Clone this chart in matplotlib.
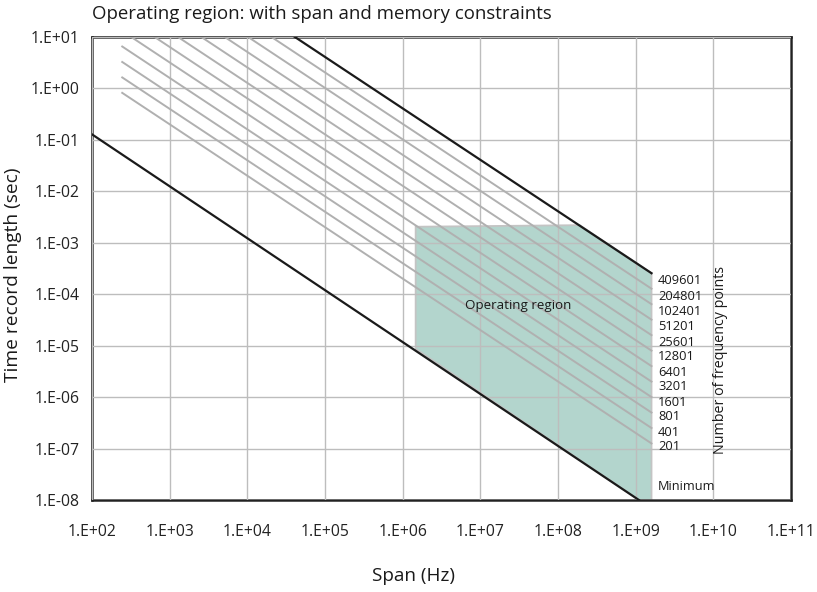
import matplotlib
matplotlib.use('Agg')

import numpy as np
import matplotlib.pyplot as plt
from matplotlib.ticker import FixedLocator, FuncFormatter, NullLocator

plt.rcParams['font.family'] = ['Open Sans', 'DejaVu Sans']
plt.rcParams['font.stretch'] = 'semi-condensed'

# number of frequency points (lines of constant resolution)
n_points = [201, 401, 801, 1601, 3201, 6401, 12801, 25601, 51201, 102401, 204801, 409601]
n_labels = ['201', '401', '801', '1601', '3201', '6401', '12801', '25601', '51201',
            '102401', '204801', '409601']
span_start = 245.0      # Hz, where the gray lines begin
span_end = 1.6e9        # Hz, right edge of the operating region

# minimum time record line
min_span = [1e2, 1.1e9]
min_time = [0.128, 1e-8]

# operating region outline (span Hz, time sec)
region_span = [1.47e6, 1.47e6, 1.9e8, 1.6e9, 1.6e9, 1.1e9]
region_time = [8.7e-6, 2.05e-3, 2.2e-3, 2.56e-4, 1e-8, 1e-8]

x_ticks = [1e2, 1e3, 1e4, 1e5, 1e6, 1e7, 1e8, 1e9, 1e10, 1e11]
y_ticks = [1e-8, 1e-7, 1e-6, 1e-5, 1e-4, 1e-3, 1e-2, 1e-1, 1e0, 1e1]

fig = plt.figure(figsize=(8.17, 5.92), dpi=100)
ax = fig.add_axes([92/817, 1-500/592, (791-92)/817, (500-37)/592])
ax.set_xscale('log')
ax.set_yscale('log')
ax.set_xlim(1e2, 1e11)
ax.set_ylim(1e-8, 1e1)

ax.fill(region_span, region_time, facecolor='#b3d5cd', edgecolor='#c4c4c4', lw=1.3, zorder=1)

for n in n_points:
    s = np.array([span_start, span_end])
    t = n/s
    if n == n_points[-1]:
        ax.plot(s, t, color='#1a1a1a', lw=1.6, zorder=4)
    else:
        ax.plot(s, t, color='#b0b0b0', lw=1.4, zorder=3)

ax.plot(min_span, min_time, color='#1a1a1a', lw=1.6, zorder=4)

ax.xaxis.set_major_locator(FixedLocator(x_ticks))
ax.yaxis.set_major_locator(FixedLocator(y_ticks))
ax.xaxis.set_minor_locator(NullLocator())
ax.yaxis.set_minor_locator(NullLocator())
fmt = FuncFormatter(lambda v, p: '1.E%+03d' % int(round(np.log10(v))))
ax.xaxis.set_major_formatter(fmt)
ax.yaxis.set_major_formatter(fmt)
ax.tick_params(axis='both', length=0, labelsize=11.3, colors='#222222')
ax.tick_params(axis='x', pad=17)
ax.tick_params(axis='y', pad=9)
ax.grid(True, color='#bdbdbd', lw=1.0)
ax.set_axisbelow(False)
for sp in ax.spines.values():
    sp.set_color('#222222')
    sp.set_linewidth(1.8)

# labels for the frequency point lines
for i, lab in enumerate(n_labels[::-1]):
    if i == 0:
        yp = 280
    else:
        yp = 282 + 15*i
    ax.text(658/817, 1-yp/592, lab, transform=fig.transFigure, fontsize=9.3,
            ha='left', va='center', color='#1a1a1a')
ax.text(658/817, 1-486/592, 'Minimum', transform=fig.transFigure, fontsize=9.2,
        ha='left', va='center', color='#1a1a1a')
ax.text(518/817, 1-305/592, 'Operating region', transform=fig.transFigure, fontsize=9.6,
        ha='center', va='center', color='#1a1a1a')
ax.text(720/817, 1-360/592, 'Number of frequency points', transform=fig.transFigure,
        fontsize=10.3, rotation=90, ha='center', va='center', color='#1a1a1a')

fig.text(92/817, 1-14/592, 'Operating region: with span and memory constraints',
         fontsize=13.4, ha='left', va='center', color='#1a1a1a')
fig.text(13/817, 1-275/592, 'Time record length (sec)', fontsize=13.8, rotation=90,
         ha='center', va='center', color='#1a1a1a')
fig.text(414/817, 1-576/592, 'Span (Hz)', fontsize=13.6, ha='center', va='center',
         color='#1a1a1a')

plt.savefig('out.png', dpi=100)
